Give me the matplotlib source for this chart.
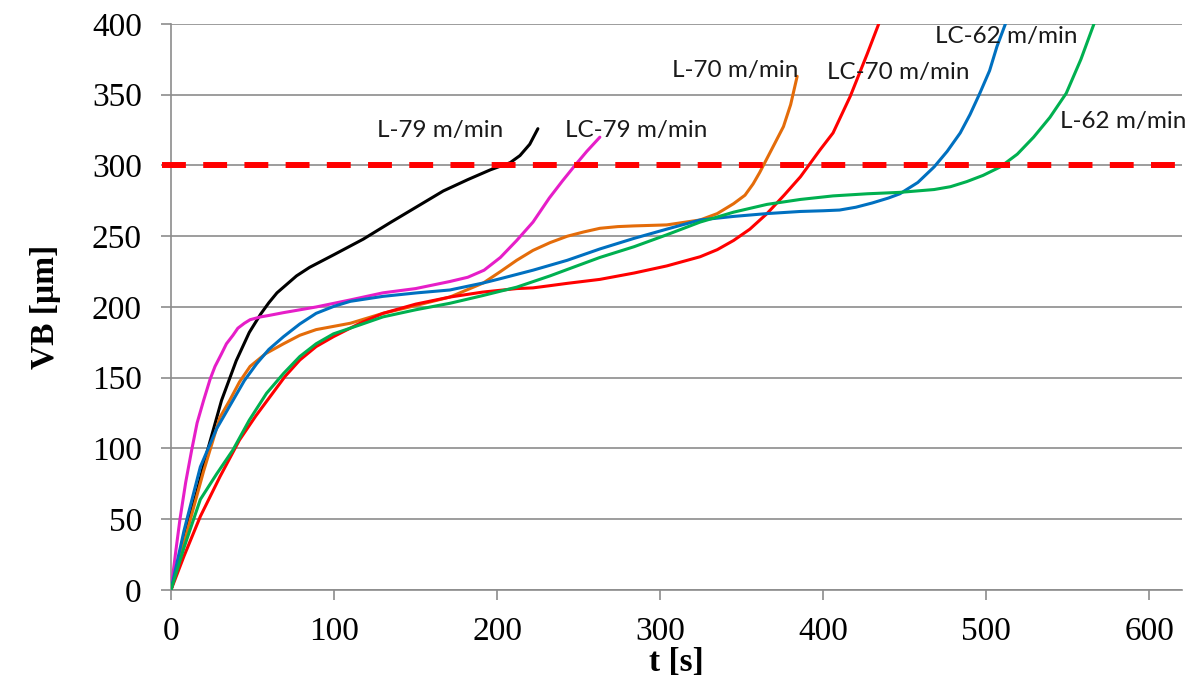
import matplotlib.pyplot as plt

# wear curves VB(t) for each cutting condition
t_L79 = [0, 5, 10, 16, 22, 31, 40, 48, 55, 60, 65, 70, 77, 85, 100, 118, 135, 151, 167, 182, 196, 208, 214, 220, 225]
vb_L79 = [0, 22, 45, 70, 97, 134, 162, 182, 195, 203, 210, 215, 222, 228, 237, 248, 260, 271, 282, 290, 297, 302, 307, 315, 326]

t_LC79 = [0, 3, 5.5, 9, 12.7, 16, 20, 24, 27, 31, 34, 38, 41, 45, 48.5, 55, 60, 69, 89, 110, 130, 150, 171, 182, 192, 202, 212, 222, 232, 240, 247, 255, 263]
vb_LC79 = [0, 28, 50, 76, 99, 118, 134, 149, 158, 167, 174, 180, 185, 188.5, 191, 193, 194, 196, 200, 205, 210, 213, 218, 221, 226, 235, 247, 260, 277, 289, 299, 310, 320]

t_L70 = [0, 10, 20, 30, 36, 42, 48.5, 58, 69, 79, 89, 110, 130, 150, 171, 191.6, 202, 212, 222, 232.5, 243, 253, 263, 274, 284, 304, 324.5, 335, 345, 352, 357, 361, 365.5, 370, 375.6, 380, 384]
vb_L70 = [0, 42, 84, 122, 134, 147, 158, 167, 174, 180, 184, 188.5, 195.5, 201, 207, 217, 225, 233, 240, 245.5, 250, 253, 255.6, 256.8, 257.3, 258, 261.5, 266, 273, 279, 287, 295, 305, 315, 327.5, 343, 363]

t_LC70 = [0, 8, 18, 30, 42, 52, 61, 70, 79, 89, 99.6, 115, 130, 150, 171, 191, 212, 222, 232, 243, 263, 284, 304, 324.5, 335, 345, 355, 365.5, 376, 386, 398, 406, 416.6, 427, 434]
vb_LC70 = [0, 24, 52, 80, 106, 123, 137, 151, 162.5, 172, 179, 188, 195.5, 202, 207, 210.5, 213, 213.5, 215, 216.7, 219.5, 224, 229, 235.5, 240.5, 247, 255, 266, 279, 292, 311, 323, 349, 379, 400]

t_LC62 = [0, 8, 18, 28, 38, 45, 52.6, 60, 69, 79, 89, 100, 110, 130, 151, 171, 191.6, 202, 222, 243, 263, 284, 304, 324.5, 345, 365.5, 386, 400, 410, 420, 430, 440, 447, 458, 468, 476, 484, 490, 496, 502, 506.5, 511.7]
vb_LC62 = [0, 42, 87, 114, 134, 148, 160, 170, 179, 188, 195.5, 200.5, 204, 207.5, 210, 212, 217, 220, 226, 233, 241, 248.5, 255, 261.5, 264, 266, 267.5, 268, 268.5, 270.5, 273.5, 277, 280, 288, 299, 310, 323, 336, 351, 367, 384, 400]

t_L62 = [0, 8, 18, 28, 38, 48, 58.6, 69, 79, 89, 99.6, 115, 130, 150, 171, 191, 212, 232.5, 243, 263, 284, 304, 324.5, 345, 365.5, 386, 406, 427, 447, 468, 478, 488, 498, 508.6, 519, 529, 539, 549, 558, 566]
vb_L62 = [0, 30, 64, 82, 99, 120, 139, 153, 165, 174, 181, 187, 193, 198, 202.6, 208, 214, 222, 226.5, 235, 242.6, 251, 260, 267, 272.5, 276, 278.5, 280, 281, 283, 285, 288.6, 293, 299, 308, 320, 334, 351, 375, 400]

series = [
    (t_L79, vb_L79, "#000000"),
    (t_LC79, vb_LC79, "#e61ec8"),
    (t_L70, vb_L70, "#e46c0a"),
    (t_LC70, vb_LC70, "#ff0000"),
    (t_LC62, vb_LC62, "#0070c0"),
    (t_L62, vb_L62, "#00b050"),
]

labels = ["L-79 m/min", "LC-79 m/min", "L-70 m/min", "LC-70 m/min", "LC-62 m/min", "L-62 m/min"]
label_pos = [(165, 325), (285, 325), (346, 367), (446, 366), (512, 391), (584, 331)]

VB_LIMIT = 300

fig = plt.figure(figsize=(12, 6.91), dpi=100)
ax = fig.add_axes([0.1425, 0.1462, 0.8425, 0.8191])

for t, vb, c in series:
    ax.plot(t, vb, color=c, lw=2.2, solid_capstyle="round",
            solid_joinstyle="round", zorder=3)

# tool wear criterion
ax.plot([-5.5, 625], [VB_LIMIT, VB_LIMIT], color="#ff0000", lw=4.3,
        dashes=(4, 2.9), clip_on=False, zorder=4)

for txt, (x, y) in zip(labels, label_pos):
    ax.text(x, y, txt, ha="center", va="center", fontsize=17.5,
            family="Lato", color="#1a1a1a", zorder=5)

ax.set_xlim(0, 620)
ax.set_ylim(0, 400)
ax.set_xticks(range(0, 601, 100))
ax.set_yticks(range(0, 401, 50))

for s in ["top", "right"]:
    ax.spines[s].set_visible(False)
for s in ["left", "bottom"]:
    ax.spines[s].set_color("#8c8c8c")
    ax.spines[s].set_linewidth(1.2)

ax.yaxis.grid(True, color="#8c8c8c", lw=1.2)
ax.set_axisbelow(True)
ax.tick_params(axis="both", colors="#8c8c8c", length=7, width=1.2,
               labelsize=24, labelcolor="black")
ax.tick_params(axis="y", pad=14)
ax.tick_params(axis="x", pad=12)
for lab in ax.get_xticklabels() + ax.get_yticklabels():
    lab.set_family("Liberation Serif")

ax.set_ylabel("VB [µm]", family="Liberation Serif", fontsize=24,
              fontweight="bold", labelpad=22)
ax.set_xlabel("t [s]", family="Liberation Serif", fontsize=24,
              fontweight="bold", labelpad=0)

fig.savefig("out.png", dpi=100)
